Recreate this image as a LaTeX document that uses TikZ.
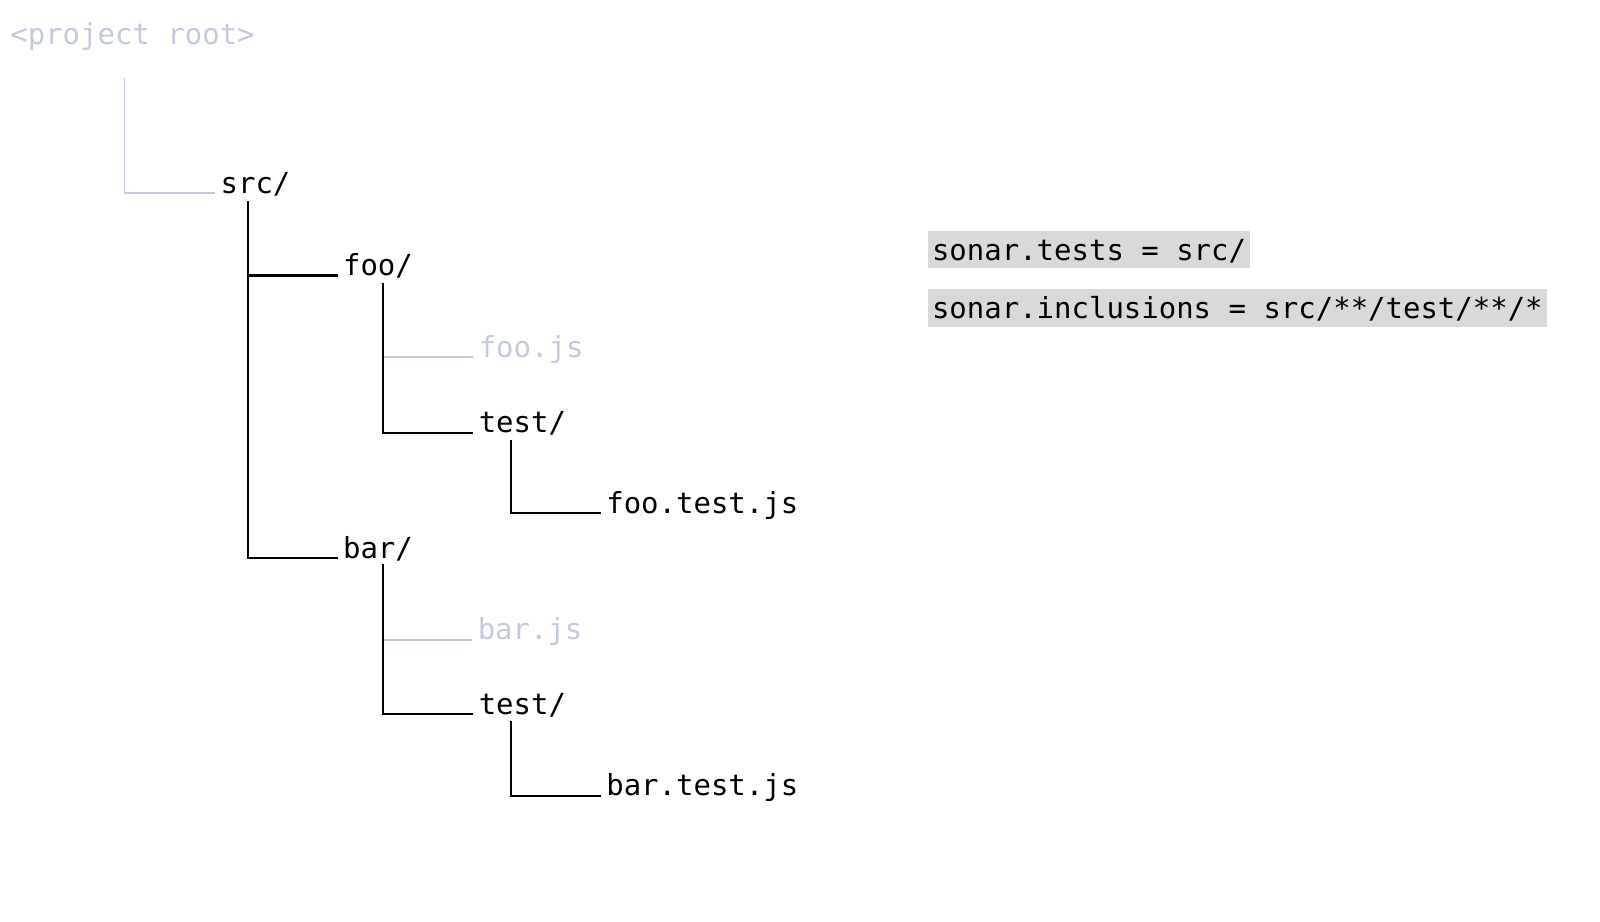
\documentclass[tikz,border=0pt]{standalone}
\usepackage{fontspec}
\setmonofont{DejaVu Sans Mono}
\usetikzlibrary{calc}
\definecolor{treeInk}{HTML}{000000}
\definecolor{treeFaint}{HTML}{C3CADF}
\definecolor{treeCode}{HTML}{D9D9D9}
\tikzset{
  tree name/.style={anchor=base west, inner sep=0pt, text=treeInk,
    font=\ttfamily\fontsize{28.4}{34}\selectfont},
  tree faint name/.style={tree name, text=treeFaint},
  tree line/.style={draw=treeInk, line width=2pt},
  tree faint line/.style={draw=treeFaint, line width=1.6pt},
  tree code/.style={anchor=base west, fill=treeCode, inner xsep=4.2pt, inner ysep=0pt,
    text height=29pt, text depth=8pt,
    font=\ttfamily\fontsize{28.4}{34}\selectfont},
}
\begin{document}
\begin{tikzpicture}[x=1pt, y=1pt]
  \useasboundingbox (0,0) rectangle (1568,-903);

  % Folder and file names
  \node[tree faint name] (root) at (10,-44) {<project root>};
  \node[tree name] (src) at (216,-190) {src/};
  \node[tree name] (foo) at (336,-270) {foo/};
  \node[tree faint name] (fooJs) at (469,-350) {foo.js};
  \node[tree name] (fooTest) at (469,-424) {test/};
  \node[tree name] (fooTestJs) at (594,-503) {foo.test.js};
  \node[tree name] (bar) at (336,-547) {bar/};
  \node[tree faint name] (barJs) at (468,-627) {bar.js};
  \node[tree name] (barTest) at (469,-700) {test/};
  \node[tree name] (barTestJs) at (594,-780) {bar.test.js};

  % Where each trunk leaves its parent
  \coordinate (rootTrunk) at ([xshift=112,yshift=-32]root.base west);
  \coordinate (srcTrunk) at ([xshift=27,yshift=-7]src.base west);
  \coordinate (fooTrunk) at ([xshift=39,yshift=-7]foo.base west);
  \coordinate (fooTestTrunk) at ([xshift=32,yshift=-7]fooTest.base west);
  \coordinate (barTrunk) at ([xshift=39,yshift=-6]bar.base west);
  \coordinate (barTestTrunk) at ([xshift=32,yshift=-7]barTest.base west);

  % Faint branches first, so the black trunks lie on top
  \draw[tree faint line] (rootTrunk) |- ([xshift=-5,yshift=1]src.base west);
  \draw[tree faint line] (fooTrunk |- fooJs.base) -- ([xshift=-5]fooJs.base west);
  \draw[tree faint line] (barTrunk |- barJs.base) -- ([xshift=-5]barJs.base west);

  % Black branches
  \draw[tree line] (srcTrunk) |- ([xshift=-5]foo.base west);
  \draw[tree line] (srcTrunk) |- ([xshift=-5]bar.base west);
  \draw[tree line] (fooTrunk) |- ([xshift=-5]fooTest.base west);
  \draw[tree line] (fooTestTrunk) |- ([xshift=-5]fooTestJs.base west);
  \draw[tree line] (barTrunk) |- ([xshift=-5]barTest.base west);
  \draw[tree line] (barTestTrunk) |- ([xshift=-5]barTestJs.base west);

  % Settings on the right
  \node[tree code] (testsSetting) at (909,-255) {sonar.tests = src/};
  \node[tree code] (inclusionsSetting) at (909,-312) {sonar.inclusions = src/**/test/**/*};
\end{tikzpicture}
\end{document}
